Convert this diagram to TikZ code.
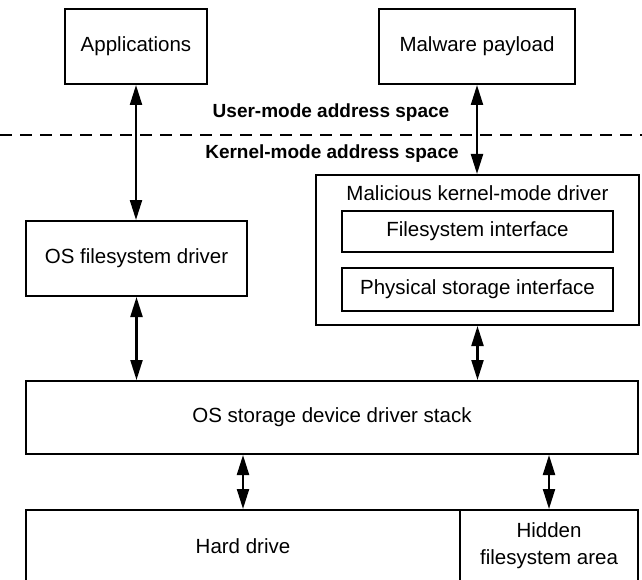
\documentclass[tikz,border=0pt]{standalone}
\usepackage{fontspec}
\setmainfont{Liberation Sans}
\usetikzlibrary{arrows.meta}
\begin{document}
\begin{tikzpicture}[x=1pt,y=-1pt,
  box/.style={draw=black, line width=2pt, rectangle, inner sep=0pt, align=center,
    font=\fontsize{20.5}{27}\selectfont},
  txt/.style={inner sep=0pt, align=center, font=\fontsize{20.5}{27}\selectfont},
  lbl/.style={inner sep=0pt, font=\fontsize{19}{22}\selectfont\bfseries},
  dbl/.style={line width=2.2pt, {Triangle[length=20pt,width=12pt]}-{Triangle[length=20pt,width=12pt]}},
  sep/.style={line width=2pt, dash pattern=on 12pt off 8pt}]
\useasboundingbox (0,0) rectangle (642,580);
\clip (0,0) rectangle (642,580);

% user mode
\node[box, minimum width=142pt, minimum height=75pt] (app) at (136,46.5) {Applications};
\node[box, minimum width=196pt, minimum height=75pt] (mal) at (477,46.5) {Malware payload};

\node[lbl] (user) at (331,113) {User-mode address space};
\coordinate (dl) at (0,135);
\coordinate (dr) at (642,135);
\draw[sep] (dl) -- (dr);
\node[lbl] (kern) at (332,154) {Kernel-mode address space};

% kernel mode
\node[box, minimum width=221pt, minimum height=75pt] (osfs) at (136.5,258.5) {OS filesystem driver};

\node[box, minimum width=323pt, minimum height=150pt] (malk) at (477.5,250) {};
\node[txt] (malt) at (477.5,193) {Malicious kernel-mode driver};
\node[box, minimum width=271pt, minimum height=41pt] (fsi) at (477.5,231.5) {Filesystem interface};
\node[box, minimum width=271pt, minimum height=43pt] (psi) at (477.5,289.5) {Physical storage interface};

\node[box, minimum width=612pt, minimum height=73pt] (stack) at (332,417.5) {OS storage device driver stack};

\node[box, minimum width=434pt, minimum height=90pt] (hard) at (243,555) {};
\node[txt] (hardt) at (243,546) {Hard drive};
\node[box, minimum width=178pt, minimum height=90pt] (hid) at (549,555) {};
\node[txt] (hidt) at (549,546) {Hidden\\filesystem area};

% connectors
\draw[dbl] (app.south) -- (app.south |- osfs.north);
\draw[dbl] (mal.south) -- (mal.south |- malk.north);
\draw[dbl] (osfs.south) -- (osfs.south |- stack.north);
\draw[dbl] (malk.south) -- (malk.south |- stack.north);
\draw[dbl] (hard.north |- stack.south) -- (hard.north);
\draw[dbl] (hid.north |- stack.south) -- (hid.north);
\end{tikzpicture}
\end{document}
